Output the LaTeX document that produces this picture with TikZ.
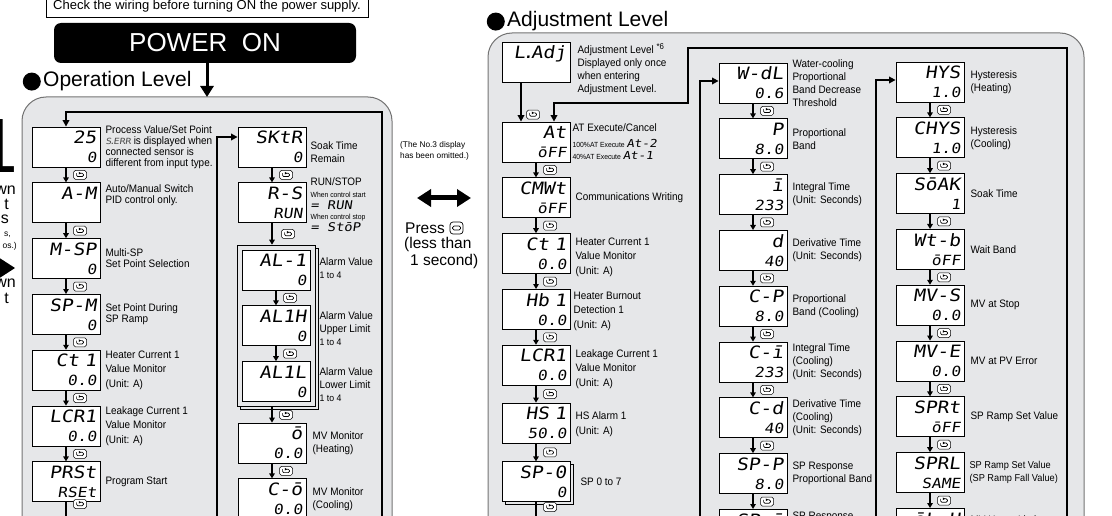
\documentclass[tikz,border=0pt]{standalone}
\usepackage{fontspec}
\setmainfont{Liberation Sans}
\newfontfamily\descfont[FakeStretch=0.92]{Liberation Sans}
\newfontfamily\segfont[FakeSlant=0.15,FakeStretch=1.15]{DejaVu Sans Mono}
\newfontfamily\narrowfont[FakeStretch=0.42]{Liberation Sans}
\usetikzlibrary{positioning, arrows.meta, calc, fit, shadows, backgrounds}

\definecolor{panelgray}{RGB}{230,231,233}
\definecolor{rimgray}{RGB}{115,115,115}
\newcommand\dlow[1]{{\fontsize{14}{19}\selectfont #1}}

\begin{document}
\begin{tikzpicture}[x=1pt, y=-1pt, >=Stealth, node distance=15pt,
    disp/.style={draw, line width=0.8pt, fill=white, minimum width=68pt,
                 minimum height=40pt, text width=61pt, align=right, inner sep=0pt,
                 font=\segfont\fontsize{17}{19}\selectfont},
    stacked/.style={copy shadow={shadow xshift=3pt, shadow yshift=-3pt,
                 draw=black, line width=0.8pt, fill=panelgray}},
    desc/.style={anchor=west, align=left, inner sep=0pt, font=\descfont\fontsize{10.8}{13}\selectfont},
    tightlines/.style={font=\descfont\fontsize{10.8}{11}\selectfont},
    widelines/.style={font=\descfont\fontsize{10.8}{14.5}\selectfont},
    smalltxt/.style={anchor=west, inner sep=0pt, font=\descfont\fontsize{7.4}{8}\selectfont},
    frag/.style={anchor=east, inner sep=0pt, font=\fontsize{16}{16}\selectfont},
    panel/.style={draw=rimgray, line width=1pt, fill=panelgray, rounded corners=24pt},
    stepar/.style={line width=1.3pt, -{Triangle[length=5pt, width=5.5pt]}},
    loopar/.style={line width=2pt, -{Triangle[length=6.5pt, width=6.5pt]}},
    title/.style={inner sep=0pt, font=\fontsize{21}{21}\selectfont},
    dot/.style={circle, fill, inner sep=0pt, minimum size=18pt},
    cyckey/.pic={
      \draw[line width=0.5pt, fill=white, rounded corners=1.8pt] (-6.5,-4.5) rectangle (6.5,4.5);
      \draw[line width=0.7pt, rounded corners=1.2pt] (-1,-1.7) -- (3.4,-1.7) -- (3.4,1.7)
            -- (-3.4,1.7) -- (-3.4,-1.7);
      \fill (-1.2,-3.1) -- (0.9,-1.7) -- (-1.2,-0.3) -- cycle;},
    modekey/.pic={
      \draw[line width=0.7pt, fill=white, rounded corners=3pt] (-6.5,-6) rectangle (6.5,6);
      \draw[line width=0.7pt, rounded corners=1.5pt] (-4,-2) rectangle (4,2);}]

    \useasboundingbox (0,0) rectangle (1112,516);

    \begin{scope}[on background layer]
        \draw[panel] (22,97) rectangle (392,560);
        \draw[panel] (488,33) rectangle (1084,560);
    \end{scope}

    % power on
    \node[draw, line width=0.6pt, minimum width=322pt, minimum height=21pt, inner sep=0pt,
          font=\fontsize{13}{13}\selectfont] (wiring) at (207,6.5)
          {Check the wiring before turning ON the power supply.};
    \node[fill=black, rounded corners=7pt, minimum width=302pt, minimum height=40pt,
          text=white, font=\fontsize{26}{26}\selectfont] (power) at (205,43) {POWER\ \ ON};
    \coordinate (opentry) at (207,97);
    \draw[line width=3pt, -{Triangle[length=11pt, width=13pt]}] (power.south -| opentry) -- (opentry);

    \node[title, anchor=base west] (optitle) at (43,87) {Operation Level};
    \node[dot, left=2pt of optitle] (opdot) {};
    \node[title, anchor=base west] (adjtitle) at (507,27) {Adjustment Level};
    \node[dot, left=2pt of adjtitle] (adjdot) {};

    % cut-off text at the left edge
    \node[anchor=base west, inner sep=0pt, text height=56pt, text depth=0pt,
          font=\narrowfont\fontsize{77}{77}\selectfont] (bigl) at (-2.5,173) {L};
    \node[frag] (fr1) at (16,190) {wn};
    \node[frag] (fr2) at (9,204) {t};
    \node[frag] (fr3) at (9,219) {s};
    \node[frag, font=\fontsize{8.5}{9}\selectfont] (fr4) at (11,235) {s,};
    \node[frag, font=\fontsize{8.5}{9}\selectfont] (fr5) at (17,246) {os.)};
    \fill (-2,257) -- (15,268) -- (-2,279) -- cycle;
    \node[frag] (fr6) at (16,283) {wn};
    \node[frag] (fr7) at (9,298) {t};

    % operation level, first column
    \node[disp] (op1) at (66,147) {25\\\dlow{0}};
    \node[disp, below=of op1] (op2) {A-M\\\mbox{}};
    \node[disp, below=of op2] (op3) {M-SP\\\dlow{0}};
    \node[disp, below=of op3] (op4) {SP-M\\\dlow{0}};
    \node[disp, below=of op4] (op5) {Ct 1\\\dlow{0.0}};
    \node[disp, below=of op5] (op6) {LCR1\\\dlow{0.0}};
    \node[disp, below=of op6] (op7) {PRSt\\\dlow{RSEt}};
    \node[desc, tightlines, right=5pt of op1] (op1d) {Process Value/Set Point\\{\segfont\fontsize{8.5}{10}\selectfont\color{black!70}S\kern-2pt.\kern-2pt ERR} is displayed when\\connected sensor is\\different from input type.};
    \node[desc, tightlines, right=5pt of op2, yshift=8pt] (op2d) {Auto/Manual Switch\\PID control only.};
    \node[desc, tightlines, right=5pt of op3] (op3d) {Multi-SP\\Set Point Selection};
    \node[desc, tightlines, right=5pt of op4] (op4d) {Set Point During\\SP Ramp};
    \node[desc, widelines, right=5pt of op5] (op5d) {Heater Current 1\\Value Monitor\\(Unit: A)};
    \node[desc, widelines, right=5pt of op6] (op6d) {Leakage Current 1\\Value Monitor\\(Unit: A)};
    \node[desc, right=5pt of op7] (op7d) {Program Start};

    % operation level, second column
    \node[disp] (sk) at (272,147) {SKtR\\\dlow{0}};
    \node[disp, below=of sk] (rs) {R-S\\\dlow{RUN}};
    \node[disp] (al1) at (276,270) {AL-1\\\dlow{0}};
    \node[disp, below=of al1] (al1h) {AL1H\\\dlow{0}};
    \node[disp, below=of al1h] (al1l) {AL1L\\\dlow{0}};
    \node[disp] (mv) at (272,443) {ō\\\dlow{0.0}};
    \node[disp, below=of mv] (cmv) {C-ō\\\dlow{0.0}};
    \node[desc, right=4pt of sk, yshift=-5pt] (skd) {Soak Time\\Remain};
    \node[desc] (rsd1) at ($(rs.east)+(4,-21)$) {RUN/STOP};
    \node[smalltxt] (rsd2) at ($(rs.east)+(4,-8)$) {When control start};
    \node[smalltxt, font=\segfont\fontsize{12}{12}\selectfont] (rsd3) at ($(rs.east)+(4,2)$) {= RUN};
    \node[smalltxt] (rsd4) at ($(rs.east)+(4,15)$) {When control stop};
    \node[smalltxt, font=\segfont\fontsize{12}{12}\selectfont] (rsd5) at ($(rs.east)+(4,24)$) {= StōP};
    \node[desc, right=9pt of al1, yshift=2pt] (al1d) {Alarm Value\\{\fontsize{9.5}{9}\selectfont 1 to 4}};
    \node[desc, right=9pt of al1h, yshift=-2.5pt] (al1hd) {Alarm Value\\Upper Limit\\{\fontsize{9.5}{9}\selectfont 1 to 4}};
    \node[desc, right=9pt of al1l, yshift=-3.5pt] (al1ld) {Alarm Value\\Lower Limit\\{\fontsize{9.5}{9}\selectfont 1 to 4}};
    \node[desc, right=6pt of mv] (mvd) {MV Monitor\\(Heating)};
    \node[desc, right=6pt of cmv] (cmvd) {MV Monitor\\(Cooling)};
    \begin{scope}[on background layer]
        \node[draw, line width=0.8pt, fill=panelgray, inner sep=4.5pt, fit=(al1)(al1l),
              copy shadow={shadow xshift=3pt, shadow yshift=-3pt, draw=black, line width=0.8pt, fill=panelgray}] (alfrm) {};
    \end{scope}

    % middle
    \node[anchor=west, align=left, inner sep=0pt, font=\fontsize{8.3}{11}\selectfont] (omitted) at (400,151)
          {(The No.3 display\\has been omitted.)};
    \coordinate (swapl) at (417,198);
    \coordinate (swapr) at (471,198);
    \draw[line width=5pt, {Triangle[length=14pt, width=17pt]}-{Triangle[length=14pt, width=17pt]}] (swapl) -- (swapr);
    \node[anchor=west, inner sep=0pt, font=\fontsize{15.5}{16}\selectfont] (press) at (405,228) {Press};
    \pic at ($(press.east)+(11.5,0)$) {modekey};
    \node[anchor=west, inner sep=0pt, font=\fontsize{15.5}{16}\selectfont] (lessthan) at (404,244) {(less than};
    \node[anchor=west, inner sep=0pt, font=\fontsize{15.5}{16}\selectfont] (onesec) at (410,261) {1 second)};

    % adjustment level, first column
    \node[disp] (ladj) at (536,62) {L\kern-3pt.\kern-3pt Adj\\\mbox{}};
    \node[disp] (atx) at (536,142) {At\\\dlow{ōFF}};
    \node[disp, below=of atx] (cmwt) {CMWt\\\dlow{ōFF}};
    \node[disp, below=of cmwt] (ct) {Ct 1\\\dlow{0.0}};
    \node[disp, below=of ct] (hb) {Hb 1\\\dlow{0.0}};
    \node[disp, below=of hb] (lcr) {LCR1\\\dlow{0.0}};
    \node[disp, below=17pt of lcr] (hs) {HS 1\\\dlow{50.0}};
    \node[disp, stacked, below=18pt of hs] (sp0) {SP-0\\\dlow{0}};
    \node[desc, anchor=north west] (ladjd) at ($(ladj.north east)+(7,2)$)
          {Adjustment Level \raisebox{4pt}{\fontsize{8.5}{8}\selectfont *6}\\Displayed only once\\when entering\\Adjustment Level.};
    \node[desc] (atd1) at ($(atx.east)+(2,-14)$) {AT Execute/Cancel};
    \node[smalltxt] (atd2) at ($(atx.east)+(2,1)$) {100\%AT Execute {\segfont\fontsize{11}{11}\selectfont At-2}};
    \node[smalltxt] (atd3) at ($(atx.east)+(2,14)$) {40\%AT Execute {\segfont\fontsize{11}{11}\selectfont At-1}};
    \node[desc, right=5pt of cmwt] (cmwtd) {Communications Writing};
    \node[desc, widelines, right=5pt of ct, yshift=-3.5pt] (ctd) {Heater Current 1\\Value Monitor\\(Unit: A)};
    \node[desc, widelines, right=3pt of hb, yshift=-2pt] (hbd) {Heater Burnout\\Detection 1\\(Unit: A)};
    \node[desc, widelines, right=5pt of lcr, yshift=-4pt] (lcrd) {Leakage Current 1\\Value Monitor\\(Unit: A)};
    \node[desc, font=\descfont\fontsize{10.8}{15}\selectfont, right=5pt of hs, yshift=-1.5pt] (hsd) {HS Alarm 1\\(Unit: A)};
    \node[desc, right=10pt of sp0] (sp0d) {SP 0 to 7};

    % adjustment level, second column
    \node[disp] (wdl) at (753,83) {W-dL\\\dlow{0.6}};
    \node[disp, below=of wdl] (pb) {P\\\dlow{8.0}};
    \node[disp, below=of pb] (it) {ī\\\dlow{233}};
    \node[disp, below=of it] (dt) {d\\\dlow{40}};
    \node[disp, below=of dt] (cp) {C-P\\\dlow{8.0}};
    \node[disp, below=of cp] (ci) {C-ī\\\dlow{233}};
    \node[disp, below=of ci] (cd) {C-d\\\dlow{40}};
    \node[disp, below=of cd] (spp) {SP-P\\\dlow{8.0}};
    \node[disp, below=of spp] (spi) {SP-ī\\\mbox{}};
    \node[desc, right=5pt of wdl] (wdld) {Water-cooling\\Proportional\\Band Decrease\\Threshold};
    \node[desc, right=5pt of pb] (pbd) {Proportional\\Band};
    \node[desc, right=5pt of it] (itd) {Integral Time\\(Unit: Seconds)};
    \node[desc, right=5pt of dt] (dtd) {Derivative Time\\(Unit: Seconds)};
    \node[desc, right=5pt of cp] (cpd) {Proportional\\Band (Cooling)};
    \node[desc, right=5pt of ci] (cid) {Integral Time\\(Cooling)\\(Unit: Seconds)};
    \node[desc, right=5pt of cd] (cdd) {Derivative Time\\(Cooling)\\(Unit: Seconds)};
    \node[desc, right=5pt of spp] (sppd) {SP Response\\Proportional Band};
    \node[desc] (spid) at ($(spi.north east)+(5,8)$) {SP Response};

    % adjustment level, third column
    \node[disp] (hys) at (930,82) {HYS\\\dlow{1.0}};
    \node[disp, below=of hys] (chys) {CHYS\\\dlow{1.0}};
    \node[disp, below=of chys] (soak) {SōAK\\\dlow{1}};
    \node[disp, below=of soak] (wtb) {Wt-b\\\dlow{ōFF}};
    \node[disp, below=of wtb] (mvs) {MV-S\\\dlow{0.0}};
    \node[disp, below=of mvs] (mve) {MV-E\\\dlow{0.0}};
    \node[disp, below=of mve] (sprt) {SPRt\\\dlow{ōFF}};
    \node[disp, below=of sprt] (sprl) {SPRL\\\dlow{SAME}};
    \node[disp, below=of sprl] (olh) {ōL-H\\\mbox{}};
    \node[desc, right=6pt of hys] (hysd) {Hysteresis\\(Heating)};
    \node[desc, right=6pt of chys] (chysd) {Hysteresis\\(Cooling)};
    \node[desc, right=6pt of soak] (soakd) {Soak Time};
    \node[desc, right=6pt of wtb] (wtbd) {Wait Band};
    \node[desc, right=6pt of mvs] (mvsd) {MV at Stop};
    \node[desc, right=6pt of mve] (mved) {MV at PV Error};
    \node[desc, right=6pt of sprt] (sprtd) {SP Ramp Set Value};
    \node[desc, font=\descfont\fontsize{10}{13}\selectfont, right=5pt of sprl] (sprld) {SP Ramp Set Value\\(SP Ramp Fall Value)};
    \node[desc] (olhd) at ($(olh.north east)+(6,13)$) {MV Upper Limit};

    % key steps
    \foreach \a/\b in {op1/op2, op2/op3, op3/op4, op4/op5, op5/op6, op6/op7, sk/rs,
                       al1/al1h, al1h/al1l, mv/cmv, atx/cmwt, cmwt/ct, ct/hb, hb/lcr, lcr/hs, hs/sp0,
                       wdl/pb, pb/it, it/dt, dt/cp, cp/ci, ci/cd, cd/spp, spp/spi,
                       hys/chys, chys/soak, soak/wtb, wtb/mvs, mvs/mve, mve/sprt, sprt/sprl, sprl/olh} {
        \draw[stepar] (\a) -- (\b);
        \pic at ($(\a.south)!.5!(\b.north)+(14,0)$) {cyckey};
    }
    \draw[stepar] (rs.south) -- (rs.south |- alfrm.north);
    \pic at ($(rs.south)!.5!(rs.south |- alfrm.north)+(16,0)$) {cyckey};
    \draw[stepar] (mv.north |- alfrm.south) -- (mv.north);
    \pic at ($(mv.north |- alfrm.south)!.5!(mv.north)+(14,0)$) {cyckey};
    \coordinate (adjout) at (536,530);
    \draw[stepar] (sp0) -- (sp0.south |- adjout);
    \pic at (550,507) {cyckey};

    % loops
    \coordinate (opright) at (382,560);
    \coordinate (skfeed) at (217,560);
    \coordinate (opout) at (66,560);
    \draw[loopar] (opright) |- ([yshift=15pt]op1.north) -- (op1.north);
    \draw[loopar] (skfeed) |- ([yshift=10pt]sk.west);
    \draw[line width=2pt] (op7) -- (op7.south |- opout);
    \pic at (80,504) {cyckey};

    \coordinate (adjright) at (1067,560);
    \coordinate (adjtop) at (688,48);
    \coordinate (wdlfeed) at (700,560);
    \coordinate (hysfeed) at (876,560);
    \draw[loopar] (adjright) |- (adjtop) |- ([xshift=18pt, yshift=19pt]atx.north) -- ([xshift=18pt]atx.north);
    \draw[loopar] ([xshift=-15pt]ladj.south) -- ([xshift=-15pt]atx.north);
    \pic at ($(atx.north)+(-3,-7)$) {cyckey};
    \draw[loopar] (wdlfeed) |- ([yshift=2pt]wdl.west);
    \draw[loopar] (hysfeed) |- ([yshift=2pt]hys.west);
\end{tikzpicture}
\end{document}
